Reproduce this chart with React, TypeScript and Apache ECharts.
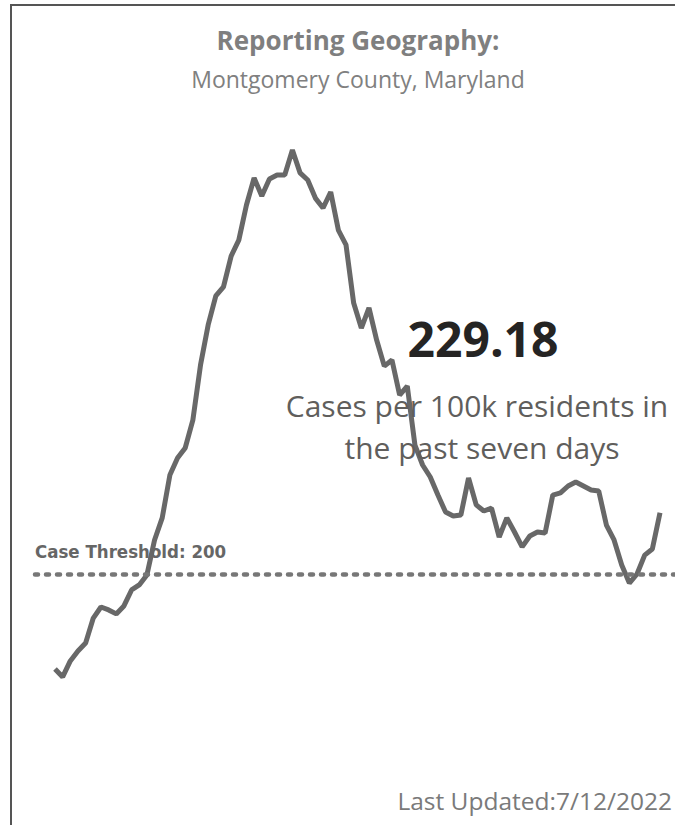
import React, { useEffect, useRef } from "react";
import * as echarts from "echarts";

// 7-day case rate per 100k residents, daily, ending 7/12/2022
const startDate = "2022-04-24";
const caseRate: number[] = [
  154.8, 151.0, 158.6, 163.3, 167.1, 179.0, 184.3, 182.9, 181.0, 184.8,
  192.4, 194.8, 199.5, 216.2, 226.7, 247.1, 255.2, 260.0, 273.3, 299.5,
  318.6, 332.4, 336.7, 351.4, 359.0, 375.7, 388.6, 380.0, 388.1, 390.0,
  390.0, 401.9, 391.0, 387.6, 379.0, 374.3, 381.9, 363.8, 356.7, 329.0,
  317.1, 326.7, 311.4, 299.0, 301.9, 285.2, 289.5, 261.4, 251.9, 246.2,
  237.6, 229.5, 227.6, 228.1, 245.7, 232.9, 230.0, 231.4, 217.6, 226.7,
  220.0, 212.9, 218.1, 220.0, 219.5, 237.6, 238.6, 241.9, 243.8, 241.9,
  240.0, 239.5, 223.3, 216.2, 204.3, 195.7, 200.0, 209.0, 211.9, 229.18,
];
const threshold = 200;
const thresholdLabel = "Case Threshold: 200";
const headlineValue = "229.18";
const titleText = "Reporting Geography:";
const subtitleText = "Montgomery County, Maryland";
const captionLines = ["Cases per 100k residents in", "the past seven days"];
const lastUpdated = "Last Updated:7/12/2022";
const yMin = 100;
const yMax = 450;

function buildDates(start: string, n: number): string[] {
  const out: string[] = [];
  const d0 = new Date(start + "T00:00:00Z");
  for (let i = 0; i < n; i++) {
    const d = new Date(d0.getTime() + i * 86400000);
    out.push(`${d.getUTCMonth() + 1}/${d.getUTCDate()}/${d.getUTCFullYear()}`);
  }
  return out;
}
const dates = buildDates(startDate, caseRate.length);

export default function App() {
  const ref = useRef<HTMLDivElement>(null);
  useEffect(() => {
    if (!ref.current) return;
    const chart = echarts.init(ref.current, null, { renderer: "svg" });
    const font = "'Open Sans', 'Noto Sans', sans-serif";
    chart.setOption({
      animation: false,
      backgroundColor: "#ffffff",
      grid: { left: 55, right: 15, top: 49, height: 735, containLabel: false },
      xAxis: {
        type: "category",
        data: dates,
        boundaryGap: false,
        show: false,
      },
      yAxis: {
        type: "value",
        min: yMin,
        max: yMax,
        show: false,
      },
      series: [
        {
          type: "line",
          data: caseRate,
          symbol: "none",
          lineStyle: { color: "#686868", width: 5 },
          z: 3,
          markLine: {
            silent: true,
            symbol: ["none", "none"],
            lineStyle: {
              color: "#777777",
              width: 4.5,
              type: [3, 8],
              cap: "round",
            },
            label: {
              show: true,
              position: "insideStartTop",
              formatter: thresholdLabel,
              color: "#666666",
              fontFamily: "'DejaVu Sans Condensed', 'Liberation Sans Narrow', Roboto, sans-serif",
              fontWeight: "bold",
              fontSize: 18.5,
              distance: [0, 13],
            },
            data: [[{ x: 35, yAxis: threshold }, { x: 675, yAxis: threshold }]],
          },
        },
      ],
      graphic: [
        {
          type: "rect",
          shape: { x: 11, y: 5, width: 700, height: 900 },
          style: { fill: "none", stroke: "#555555", lineWidth: 2 },
          silent: true,
        },
        {
          type: "text",
          x: 358,
          y: 40,
          style: {
            text: titleText,
            textAlign: "center",
            textVerticalAlign: "middle",
            font: `bold 26px ${font}`,
            fill: "#7f7f7f",
          },
        },
        {
          type: "text",
          x: 358,
          y: 79,
          style: {
            text: subtitleText,
            textAlign: "center",
            textVerticalAlign: "middle",
            font: `23px ${font}`,
            fill: "#808080",
          },
        },
        {
          type: "text",
          x: 483,
          y: 338,
          z: 10,
          style: {
            text: headlineValue,
            textAlign: "center",
            textVerticalAlign: "middle",
            font: `bold 48px ${font}`,
            fill: "#252423",
          },
        },
        {
          type: "text",
          x: 477,
          y: 405,
          z: 10,
          style: {
            text: captionLines[0],
            textAlign: "center",
            textVerticalAlign: "middle",
            font: `30px ${font}`,
            fill: "#605e5c",
          },
        },
        {
          type: "text",
          x: 482,
          y: 447,
          z: 10,
          style: {
            text: captionLines[1],
            textAlign: "center",
            textVerticalAlign: "middle",
            font: `30px ${font}`,
            fill: "#605e5c",
          },
        },
        {
          type: "text",
          x: 672,
          y: 800,
          style: {
            text: lastUpdated,
            textAlign: "right",
            textVerticalAlign: "middle",
            font: `24.5px ${font}`,
            fill: "#7a7a7a",
          },
        },
      ],
    });
    return () => chart.dispose();
  }, []);
  return (
    <div
      ref={ref}
      style={{ position: "fixed", left: 0, top: 0, width: 675, height: 825 }}
    />
  );
}
